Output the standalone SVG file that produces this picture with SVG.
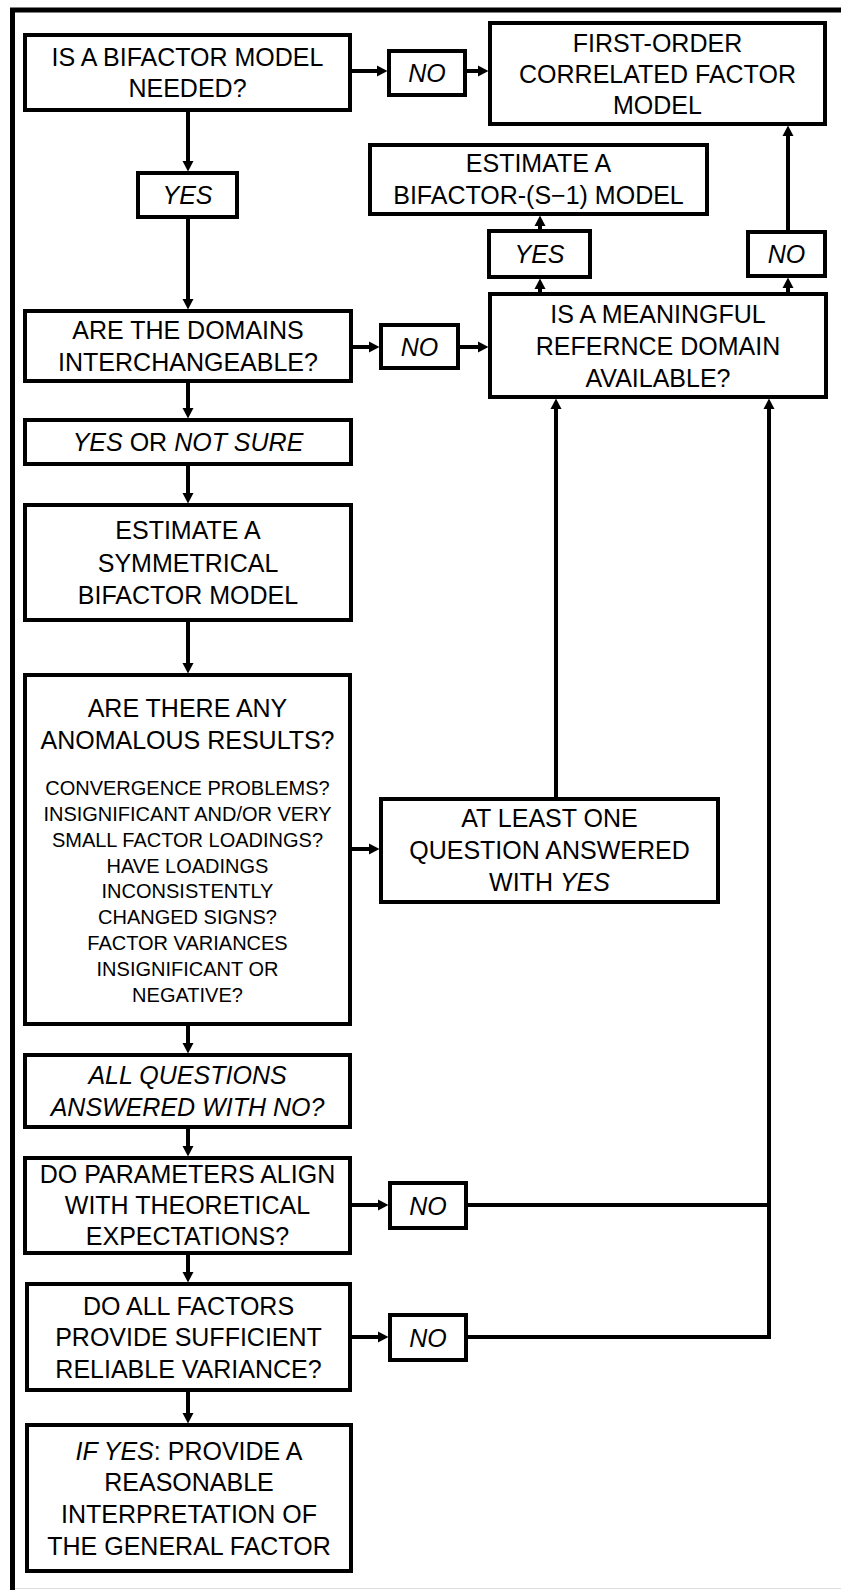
<svg xmlns="http://www.w3.org/2000/svg" width="841" height="1590" viewBox="0 0 841 1590">
<style>
.box{fill:#fff;stroke:#000;stroke-width:4}
.t{font-family:"Liberation Sans",Arial,Helvetica,sans-serif;font-size:25px;fill:#000;text-anchor:middle}
.s{font-size:20px}
.i{font-style:italic}
.c{fill:none;stroke:#000;stroke-width:4}
</style>
<defs>
<marker id="ah" markerUnits="userSpaceOnUse" markerWidth="11" markerHeight="11" refX="0" refY="5.5" orient="auto" overflow="visible">
<path d="M0,0 L10.5,5.5 L0,11 Z" fill="#000"/>
</marker>
</defs>
<rect x="0" y="0" width="841" height="1590" fill="#fff"/>
<g id="frame">
<line x1="10" y1="10" x2="841" y2="10" stroke="#000" stroke-width="5"/>
<line x1="12.5" y1="8" x2="12.5" y2="1590" stroke="#000" stroke-width="5"/>
<line x1="15" y1="1588.5" x2="841" y2="1588.5" stroke="#ddd" stroke-width="1"/>
</g>
<g id="connectors">
<line class="c" x1="352" y1="71" x2="377" y2="71" marker-end="url(#ah)"/>
<line class="c" x1="467" y1="71" x2="478" y2="71" marker-end="url(#ah)"/>
<line class="c" x1="188" y1="112" x2="188" y2="161" marker-end="url(#ah)"/>
<line class="c" x1="188" y1="219" x2="188" y2="299" marker-end="url(#ah)"/>
<line class="c" x1="353" y1="347" x2="369" y2="347" marker-end="url(#ah)"/>
<line class="c" x1="460" y1="347" x2="478" y2="347" marker-end="url(#ah)"/>
<line class="c" x1="188" y1="383" x2="188" y2="408" marker-end="url(#ah)"/>
<line class="c" x1="188" y1="466" x2="188" y2="493" marker-end="url(#ah)"/>
<line class="c" x1="188" y1="622" x2="188" y2="663" marker-end="url(#ah)"/>
<line class="c" x1="188" y1="1026" x2="188" y2="1043" marker-end="url(#ah)"/>
<line class="c" x1="188" y1="1129" x2="188" y2="1146" marker-end="url(#ah)"/>
<line class="c" x1="188" y1="1255" x2="188" y2="1272" marker-end="url(#ah)"/>
<line class="c" x1="188" y1="1392" x2="188" y2="1413" marker-end="url(#ah)"/>
<line class="c" x1="352" y1="1205" x2="378" y2="1205" marker-end="url(#ah)"/>
<line class="c" x1="352" y1="1337" x2="378" y2="1337" marker-end="url(#ah)"/>
<line class="c" x1="352" y1="849" x2="369" y2="849" marker-end="url(#ah)"/>
<polyline class="c" points="468,1205 769,1205"/>
<polyline class="c" points="468,1337 769,1337 769,409" marker-end="url(#ah)"/>
<line class="c" x1="556" y1="797" x2="556" y2="409" marker-end="url(#ah)"/>
<line class="c" x1="540" y1="292" x2="540" y2="289" marker-end="url(#ah)"/>
<line class="c" x1="540" y1="229" x2="540" y2="226" marker-end="url(#ah)"/>
<line class="c" x1="788" y1="292" x2="788" y2="288" marker-end="url(#ah)"/>
<line class="c" x1="788" y1="230" x2="788" y2="136" marker-end="url(#ah)"/>
</g>
<g id="n-bifactor-needed">
<rect class="box" x="25" y="35" width="325" height="75"/>
<text class="t" x="187.5" y="66">IS A BIFACTOR MODEL</text>
<text class="t" x="187.5" y="97">NEEDED?</text>
</g>
<g id="n-no1">
<rect class="box" x="389" y="51" width="76" height="44"/>
<text class="t i" x="427" y="82">NO</text>
</g>
<g id="n-first-order">
<rect class="box" x="490" y="23" width="335" height="101"/>
<text class="t" x="657.5" y="51.5">FIRST-ORDER</text>
<text class="t" x="657.5" y="82.5">CORRELATED FACTOR</text>
<text class="t" x="657.5" y="113.5">MODEL</text>
</g>
<g id="n-yes1">
<rect class="box" x="138" y="173" width="99" height="44"/>
<text class="t i" x="187.5" y="204">YES</text>
</g>
<g id="n-estimate-s1">
<rect class="box" x="370" y="145" width="337" height="69"/>
<text class="t" x="538.5" y="172">ESTIMATE A</text>
<text class="t" x="538.5" y="204">BIFACTOR-(S−1) MODEL</text>
</g>
<g id="n-yes2">
<rect class="box" x="489" y="231" width="101" height="46"/>
<text class="t i" x="539.5" y="263">YES</text>
</g>
<g id="n-no5">
<rect class="box" x="748" y="232" width="77" height="44"/>
<text class="t i" x="786.5" y="263">NO</text>
</g>
<g id="n-meaningful">
<rect class="box" x="490" y="294" width="336" height="103"/>
<text class="t" x="658" y="323">IS A MEANINGFUL</text>
<text class="t" x="658" y="355">REFERNCE DOMAIN</text>
<text class="t" x="658" y="387">AVAILABLE?</text>
</g>
<g id="n-interchangeable">
<rect class="box" x="25" y="311" width="326" height="70"/>
<text class="t" x="188" y="339">ARE THE DOMAINS</text>
<text class="t" x="188" y="371">INTERCHANGEABLE?</text>
</g>
<g id="n-no2">
<rect class="box" x="381" y="325" width="77" height="43"/>
<text class="t i" x="419.5" y="355.5">NO</text>
</g>
<g id="n-yes-not-sure">
<rect class="box" x="25" y="420" width="326" height="44"/>
<text class="t" x="188" y="451"><tspan class="i">YES</tspan> OR <tspan class="i">NOT SURE</tspan></text>
</g>
<g id="n-symmetrical">
<rect class="box" x="25" y="505" width="326" height="115"/>
<text class="t" x="188" y="539">ESTIMATE A</text>
<text class="t" x="188" y="571.5">SYMMETRICAL</text>
<text class="t" x="188" y="603.5">BIFACTOR MODEL</text>
</g>
<g id="n-anomalous">
<rect class="box" x="25" y="675" width="325" height="349"/>
<text class="t" x="187.5" y="717">ARE THERE ANY</text>
<text class="t" x="187.5" y="749">ANOMALOUS RESULTS?</text>
<text class="t s" x="187.5" y="795">CONVERGENCE PROBLEMS?</text>
<text class="t s" x="187.5" y="821">INSIGNIFICANT AND/OR VERY</text>
<text class="t s" x="187.5" y="846.5">SMALL FACTOR LOADINGS?</text>
<text class="t s" x="187.5" y="872.5">HAVE LOADINGS</text>
<text class="t s" x="187.5" y="898">INCONSISTENTLY</text>
<text class="t s" x="187.5" y="924">CHANGED SIGNS?</text>
<text class="t s" x="187.5" y="950">FACTOR VARIANCES</text>
<text class="t s" x="187.5" y="975.5">INSIGNIFICANT OR</text>
<text class="t s" x="187.5" y="1001.5">NEGATIVE?</text>
</g>
<g id="n-at-least-one">
<rect class="box" x="381" y="799" width="337" height="103"/>
<text class="t" x="549.5" y="827">AT LEAST ONE</text>
<text class="t" x="549.5" y="859">QUESTION ANSWERED</text>
<text class="t" x="549.5" y="891">WITH <tspan class="i">YES</tspan></text>
</g>
<g id="n-all-questions">
<rect class="box" x="25" y="1055" width="325" height="72"/>
<text class="t i" x="187.5" y="1083.5">ALL QUESTIONS</text>
<text class="t i" x="187.5" y="1116">ANSWERED WITH NO?</text>
</g>
<g id="n-parameters">
<rect class="box" x="25" y="1158" width="325" height="95"/>
<text class="t" x="187.5" y="1183">DO PARAMETERS ALIGN</text>
<text class="t" x="187.5" y="1214">WITH THEORETICAL</text>
<text class="t" x="187.5" y="1245">EXPECTATIONS?</text>
</g>
<g id="n-no3">
<rect class="box" x="390" y="1183" width="76" height="45"/>
<text class="t i" x="428" y="1214.5">NO</text>
</g>
<g id="n-all-factors">
<rect class="box" x="27" y="1284" width="323" height="106"/>
<text class="t" x="188.5" y="1314.5">DO ALL FACTORS</text>
<text class="t" x="188.5" y="1346">PROVIDE SUFFICIENT</text>
<text class="t" x="188.5" y="1377.5">RELIABLE VARIANCE?</text>
</g>
<g id="n-no4">
<rect class="box" x="390" y="1315" width="76" height="45"/>
<text class="t i" x="428" y="1346.5">NO</text>
</g>
<g id="n-if-yes">
<rect class="box" x="27" y="1425" width="324" height="146"/>
<text class="t" x="189" y="1460"><tspan class="i">IF YES</tspan>: PROVIDE A</text>
<text class="t" x="189" y="1491">REASONABLE</text>
<text class="t" x="189" y="1523">INTERPRETATION OF</text>
<text class="t" x="189" y="1555">THE GENERAL FACTOR</text>
</g>
</svg>
